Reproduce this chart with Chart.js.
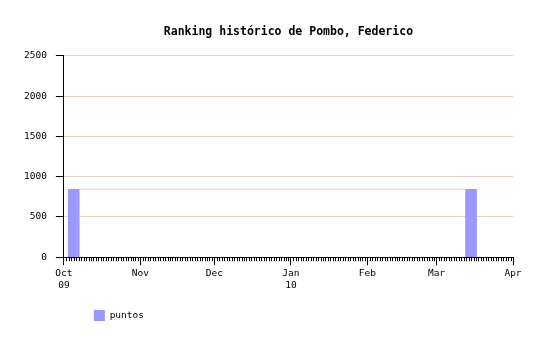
<!DOCTYPE html>
<html>
<head>
<meta charset="utf-8">
<script src="https://cdn.jsdelivr.net/npm/chart.js@4"></script>
<style>
  html, body { margin: 0; padding: 0; background: #ffffff; }
  #wrap { width: 546px; height: 340px; }
</style>
</head>
<body>
<div id="wrap"><canvas id="c" width="546" height="340"></canvas></div>
<script>
// ---- data ----
const chartTitle = 'Ranking histórico de Pombo, Federico';
const seriesName = 'puntos';
const fechas = ['2009-10-05', '2010-03-15'];
const puntos = [843, 843];
const axisStart = '2009-10-01';
const axisEnd = '2010-04-01';
const monthTickDates = ['2009-10-01', '2009-11-01', '2009-12-01', '2010-01-01', '2010-02-01', '2010-03-01', '2010-04-01'];
const monthTickLabels = [['Oct', '09'], 'Nov', 'Dec', ['Jan', '10'], 'Feb', 'Mar', 'Apr'];
const yTicks = [0, 500, 1000, 1500, 2000, 2500];

// ---- helpers ----
const DAY = 86400000;
function dayIndex(s) {
  const [y, m, d] = s.split('-').map(Number);
  const [y0, m0, d0] = axisStart.split('-').map(Number);
  return Math.round((Date.UTC(y, m - 1, d) - Date.UTC(y0, m0 - 1, d0)) / DAY);
}
const monthTickDays = monthTickDates.map(dayIndex);
const endDay = dayIndex(axisEnd);
const points = fechas.map((f, i) => ({ x: dayIndex(f), y: puntos[i] }));

const FONT = "'DejaVu Sans Mono', 'Liberation Mono', monospace";

const minorTicks = {
  id: 'minorTicks',
  afterDatasetsDraw(chart) {
    const xs = chart.scales.x;
    const ctx = chart.ctx;
    const y0 = xs.top;
    ctx.save();
    ctx.strokeStyle = '#000000';
    ctx.lineWidth = 1;
    ctx.beginPath();
    for (let d = 0; d <= endDay; d++) {
      if (monthTickDays.includes(d)) continue;
      const px = Math.round(xs.getPixelForValue(d)) + 0.5;
      ctx.moveTo(px, y0);
      ctx.lineTo(px, y0 + 4);
    }
    ctx.stroke();
    ctx.restore();
  }
};

const legendShift = {
  id: 'legendShift',
  afterLayout(chart) {
    if (chart.legend) {
      chart.legend.left += 20;
      chart.legend.right += 20;
    }
  }
};

new Chart(document.getElementById('c'), {
  type: 'bar',
  data: {
    datasets: [
      {
        type: 'bar',
        label: seriesName,
        data: points,
        backgroundColor: '#9999ff',
        borderWidth: 0,
        barThickness: 11,
        order: 1
      },
      {
        type: 'line',
        label: 'linea',
        data: points,
        borderColor: '#ffc4c4',
        borderWidth: 1,
        pointRadius: 0,
        fill: false,
        order: 2
      }
    ]
  },
  options: {
    responsive: false,
    animation: false,
    devicePixelRatio: 1,
    layout: { padding: { left: 15, right: 33, top: 0, bottom: 9 } },
    plugins: {
      tooltip: { enabled: false },
      title: {
        display: true,
        text: chartTitle,
        fullSize: false,
        color: '#000000',
        font: { family: FONT, size: 11.5, weight: 'bold' },
        padding: { top: 25, bottom: 17 }
      },
      legend: {
        display: true,
        position: 'bottom',
        align: 'start',
        fullSize: false,
        labels: {
          color: '#000000',
          font: { family: FONT, size: 9.5 },
          boxWidth: 11,
          boxHeight: 11,
          padding: 10,
          filter: (item) => item.datasetIndex === 0
        }
      }
    },
    scales: {
      x: {
        type: 'linear',
        min: 0,
        max: endDay,
        offset: false,
        afterBuildTicks: (scale) => { scale.ticks = monthTickDays.map(v => ({ value: v })); },
        afterFit: (scale) => { scale.height += 6; },
        ticks: {
          autoSkip: false,
          maxRotation: 0,
          padding: 3,
          color: '#000000',
          font: { family: FONT, size: 9.5 },
          callback: (v) => {
            const i = monthTickDays.indexOf(v);
            return i >= 0 ? monthTickLabels[i] : '';
          }
        },
        grid: {
          offset: false,
          drawOnChartArea: false,
          drawTicks: true,
          tickLength: 8,
          tickColor: '#000000'
        },
        border: { display: true, color: '#000000', width: 1 }
      },
      y: {
        min: 0,
        max: 2500,
        afterBuildTicks: (scale) => { scale.ticks = yTicks.map(v => ({ value: v })); },
        ticks: {
          padding: 9,
          color: '#000000',
          font: { family: FONT, size: 9.5 },
          callback: (v) => String(v)
        },
        grid: {
          color: '#e6d4ca',
          drawTicks: true,
          tickLength: 8,
          tickColor: '#000000'
        },
        border: { display: true, color: '#000000', width: 1 }
      }
    }
  },
  plugins: [minorTicks, legendShift]
});
</script>
</body>
</html>
